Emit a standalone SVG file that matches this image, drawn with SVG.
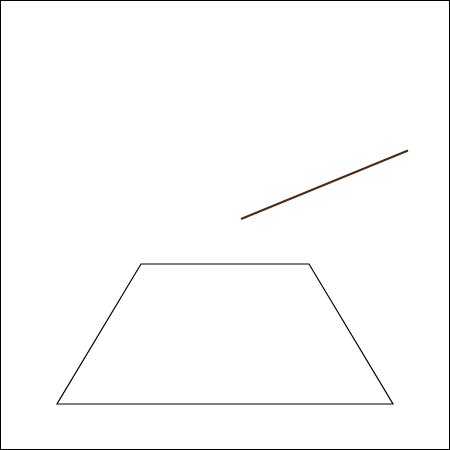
<svg xmlns="http://www.w3.org/2000/svg" width="450" height="450" viewBox="0 0 450 450">
<style>
.frame{fill:#fff;stroke:#000;stroke-width:1}
.shape{fill:none;stroke:#000;stroke-width:1.2}
.conn{stroke:#4e2a10;stroke-width:2;fill:none}
</style>
<rect class="frame" x="0.5" y="0.5" width="449" height="449"/>
<g id="trapezoid">
<polygon class="shape" points="141,264 309,264 393,404 57,404"/>
</g>
<g id="connectors">
<line class="conn" x1="241" y1="219" x2="408" y2="150.5"/>
</g>
</svg>
